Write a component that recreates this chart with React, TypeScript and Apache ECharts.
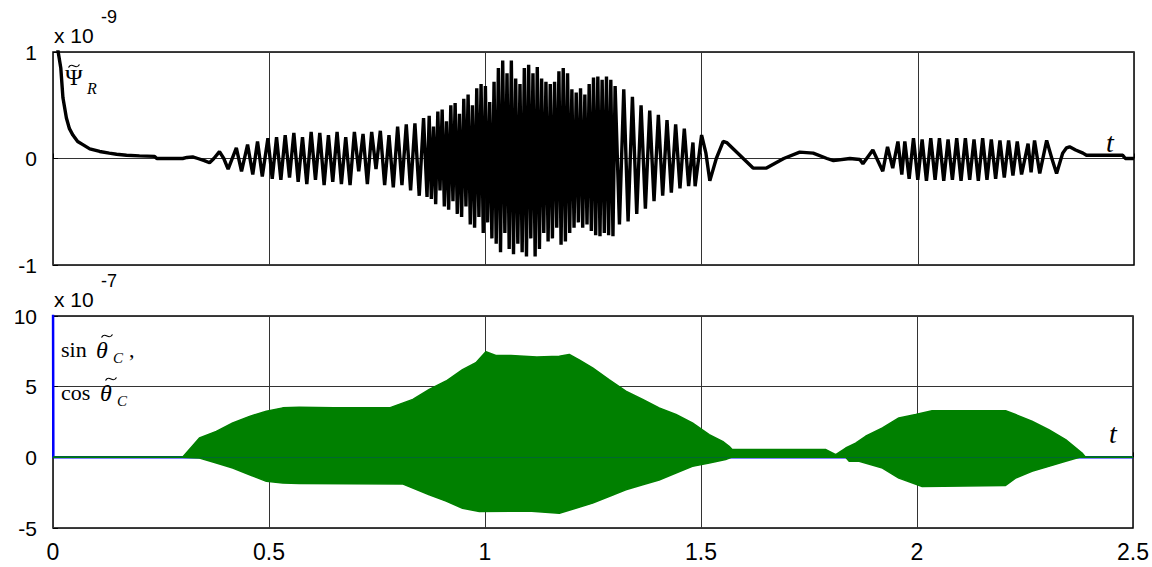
import React, { useEffect, useRef } from "react";
import * as echarts from "echarts";

// ---------- data ----------
const xTicks = [0, 0.5, 1, 1.5, 2, 2.5];
const topYTicks = [-1, 0, 1]; // x 10^-9
const bottomYTicks = [-5, 0, 5, 10]; // x 10^-7

// Psi_R (x 1e-9): initial decay
const psiDecay: [number, number][] = [
  [0, 1.3], [0.008, 1.1], [0.012, 1.0], [0.018, 0.85], [0.023, 0.57], [0.031, 0.38],
  [0.038, 0.28], [0.046, 0.22], [0.057, 0.16], [0.069, 0.13], [0.085, 0.09], [0.108, 0.066],
  [0.13, 0.05], [0.147, 0.04], [0.17, 0.03], [0.2, 0.025], [0.235, 0.02], [0.24, 0.0],
  [0.3, 0.0], [0.31, 0.01], [0.323, 0.015], [0.335, 0.0], [0.35, -0.02], [0.362, -0.04],
  [0.372, 0.0], [0.385, 0.065], [0.395, 0.0], [0.405, -0.1], [0.424, 0.1], [0.436, -0.12],
  [0.45, 0.13], [0.462, -0.15], [0.473, 0.16], [0.484, -0.17], [0.497, 0.19], [0.507, -0.19],
];
// Psi_R: steady oscillation
const psiRise: [number, number][] = [
  [0.517, 0.2], [0.527, -0.2], [0.537, 0.22], [0.547, -0.18], [0.557, 0.24], [0.567, -0.22],
  [0.577, 0.2], [0.587, -0.24], [0.597, 0.25], [0.607, -0.2], [0.617, 0.24], [0.627, -0.25],
  [0.637, 0.22], [0.647, -0.22], [0.657, 0.25], [0.667, -0.24], [0.677, 0.2], [0.687, -0.25],
  [0.697, 0.25], [0.707, -0.12], [0.717, 0.23], [0.727, -0.24], [0.737, 0.25], [0.747, -0.1],
  [0.757, 0.26], [0.767, -0.25], [0.777, 0.22], [0.787, -0.27], [0.797, 0.3], [0.807, -0.25],
  [0.817, 0.32], [0.827, -0.3], [0.837, 0.33], [0.847, -0.35], [0.857, 0.38], [0.865, -0.36],
];
// Psi_R: dense burst
const psiBurst: [number, number][] = [
  [0.87, 0.4], [0.875, -0.38], [0.88, 0.3], [0.885, -0.43], [0.89, 0.44], [0.895, -0.3],
  [0.9, 0.46], [0.905, -0.45], [0.91, 0.35], [0.915, -0.48], [0.92, 0.5], [0.925, -0.4],
  [0.93, 0.52], [0.935, -0.52], [0.94, 0.42], [0.945, -0.55], [0.95, 0.56], [0.955, -0.45],
  [0.96, 0.6], [0.965, -0.62], [0.97, 0.5], [0.975, -0.65], [0.98, 0.66], [0.985, -0.55],
  [0.99, 0.7], [0.995, -0.7], [1.0, 0.68], [1.005, -0.6], [1.01, 0.53], [1.015, -0.75],
  [1.02, 0.72], [1.025, -0.8], [1.03, 0.85], [1.035, -0.88], [1.04, 0.92], [1.045, -0.7],
  [1.05, 0.8], [1.055, -0.85], [1.06, 0.92], [1.065, -0.9], [1.07, 0.75], [1.075, -0.8],
  [1.08, 0.7], [1.085, -0.88], [1.09, 0.85], [1.095, -0.92], [1.1, 0.88], [1.105, -0.75],
  [1.11, 0.8], [1.115, -0.92], [1.12, 0.86], [1.125, -0.85], [1.13, 0.75], [1.135, -0.7],
  [1.14, 0.72], [1.145, -0.78], [1.15, 0.7], [1.155, -0.75], [1.16, 0.72], [1.165, -0.65],
  [1.17, 0.82], [1.175, -0.81], [1.18, 0.85], [1.185, -0.78], [1.19, 0.8], [1.195, -0.7],
  [1.2, 0.65], [1.205, -0.65], [1.21, 0.62], [1.215, -0.6], [1.22, 0.66], [1.225, -0.65],
  [1.23, 0.6], [1.235, -0.62], [1.24, 0.7], [1.245, -0.68], [1.25, 0.76], [1.255, -0.72],
  [1.26, 0.77], [1.265, -0.73], [1.27, 0.74], [1.275, -0.7], [1.28, 0.77], [1.285, -0.72],
  [1.29, 0.74], [1.295, -0.73], [1.3, 0.68],
];
// Psi_R: fading oscillation
const psiFade: [number, number][] = [
  [1.31, -0.62], [1.32, 0.65], [1.33, -0.59], [1.34, 0.58], [1.35, -0.52], [1.36, 0.5],
  [1.37, -0.47], [1.38, 0.45], [1.39, -0.4], [1.4, 0.41], [1.41, -0.35], [1.42, 0.36],
  [1.43, -0.32], [1.44, 0.32], [1.45, -0.28], [1.46, 0.28], [1.47, -0.26], [1.48, 0.15],
  [1.485, -0.26], [1.5, 0.22], [1.51, 0.05], [1.519, -0.21], [1.534, 0.0], [1.55, 0.16],
  [1.558, 0.15], [1.619, -0.09], [1.65, -0.09], [1.69, 0.0], [1.727, 0.06], [1.758, 0.05],
  [1.79, 0.0], [1.805, -0.02], [1.843, 0.0], [1.866, -0.01],
];
// Psi_R: second burst and tail
const psiTail: [number, number][] = [
  [1.873, -0.05], [1.896, 0.08], [1.919, -0.12], [1.93, 0.11], [1.942, -0.09], [1.954, 0.16],
  [1.963, -0.15], [1.97, 0.16], [1.98, -0.19], [1.99, 0.19], [2.0, -0.2], [2.01, 0.18],
  [2.02, -0.21], [2.03, 0.19], [2.04, -0.2], [2.05, 0.19], [2.06, -0.21], [2.07, 0.18],
  [2.08, -0.2], [2.09, 0.19], [2.1, -0.21], [2.11, 0.19], [2.12, -0.2], [2.13, 0.18],
  [2.14, -0.21], [2.15, 0.19], [2.16, -0.2], [2.17, 0.18], [2.18, -0.19], [2.19, 0.17],
  [2.2, -0.18], [2.21, 0.17], [2.22, -0.16], [2.23, 0.16], [2.24, -0.15], [2.255, 0.14],
  [2.262, -0.13], [2.27, 0.17], [2.282, -0.14], [2.298, 0.17], [2.31, 0.0], [2.321, -0.14],
  [2.335, 0.05], [2.344, 0.1], [2.351, 0.11], [2.365, 0.08], [2.382, 0.05], [2.39, 0.03],
  [2.474, 0.03], [2.48, 0.0], [2.5, 0.0],
];

// cos/sin theta_C (x 1e-7): green oscillation envelope
const cosUpper: [number, number][] = [
  [0, 0], [0.3, 0], [0.339, 1.37], [0.378, 1.84], [0.416, 2.43], [0.455, 2.9], [0.494, 3.26],
  [0.532, 3.5], [0.57, 3.55], [0.65, 3.5], [0.72, 3.5], [0.779, 3.5], [0.833, 4.1],
  [0.871, 4.8], [0.91, 5.4], [0.948, 6.2], [0.979, 6.7], [1.002, 7.47], [1.025, 7.2],
  [1.06, 7.2], [1.12, 7.1], [1.172, 7.16], [1.195, 7.28], [1.218, 6.9], [1.249, 6.33],
  [1.287, 5.5], [1.326, 4.68], [1.365, 4.1], [1.403, 3.5], [1.442, 3.03], [1.48, 2.43],
  [1.519, 1.6], [1.55, 1.13], [1.565, 0.78], [1.572, 0.55], [1.789, 0.55], [1.812, 0.19],
  [1.835, 0.66], [1.858, 1.0], [1.881, 1.49], [1.92, 2.08], [1.958, 2.79], [1.997, 3.03],
  [2.035, 3.3], [2.205, 3.3], [2.228, 3.03], [2.266, 2.55], [2.305, 1.96], [2.344, 1.26],
  [2.382, 0.3], [2.39, 0], [2.5, 0],
];
const cosLower: [number, number][] = [
  [0, 0], [0.3, 0], [0.339, -0.05], [0.378, -0.4], [0.416, -0.76], [0.455, -1.23],
  [0.494, -1.7], [0.532, -1.82], [0.57, -1.85], [0.809, -1.88], [0.871, -2.65], [0.91, -3.1],
  [0.948, -3.6], [0.987, -3.83], [1.1, -3.8], [1.172, -3.95], [1.21, -3.6], [1.249, -3.24],
  [1.287, -2.77], [1.326, -2.3], [1.365, -1.94], [1.403, -1.6], [1.442, -1.11], [1.48, -0.64],
  [1.519, -0.4], [1.557, -0.16], [1.57, 0], [1.835, 0], [1.843, -0.28], [1.866, -0.28],
  [1.92, -0.76], [1.958, -1.47], [2.012, -2.06], [2.205, -1.99], [2.228, -1.47],
  [2.266, -0.99], [2.305, -0.64], [2.344, -0.28], [2.376, 0], [2.5, 0],
];
const sinLine: [number, number][] = [
  [0, 12], [0.0008, 0], [2.5, 0],
];

// ---------- chart ----------
const FONT = "Liberation Sans, Arial, sans-serif";
const SERIF = "Liberation Serif, Times New Roman, serif";

// a small tilde accent drawn as a curve centred on (cx, cy)
const tilde = (cx: number, cy: number) => ({
  type: "bezierCurve",
  z: 10,
  shape: {
    x1: cx - 5.5, y1: cy + 1.5,
    x2: cx + 5.5, y2: cy - 1.5,
    cpx1: cx - 1.5, cpy1: cy - 5,
    cpx2: cx + 1.5, cpy2: cy + 5,
  },
  style: { stroke: "#000", lineWidth: 1.3, fill: null },
});

export default function App() {
  const ref = useRef<HTMLDivElement>(null);
  useEffect(() => {
    const chart = echarts.init(ref.current!, null, { renderer: "svg" });
    const psi = [...psiDecay, ...psiRise, ...psiBurst, ...psiFade, ...psiTail];
    const gridLine = { show: true, lineStyle: { color: "#333", width: 1 } };
    const xBase = {
      type: "value",
      min: xTicks[0],
      max: xTicks[xTicks.length - 1],
      interval: 0.5,
      axisLine: { show: false },
      axisTick: { show: true, inside: true, length: 5, lineStyle: { color: "#000" } },
      splitLine: gridLine,
    };
    chart.setOption({
      animation: false,
      backgroundColor: "#fff",
      grid: [
        { left: 53, right: 18, top: 52, height: 213, show: true, borderColor: "#000", borderWidth: 1.5, backgroundColor: "transparent" },
        { left: 53, right: 18, top: 316, height: 212, show: true, borderColor: "#000", borderWidth: 1.5, backgroundColor: "transparent" },
      ],
      xAxis: [
        { ...xBase, gridIndex: 0, axisLabel: { show: false } },
        {
          ...xBase,
          gridIndex: 1,
          axisLabel: {
            show: true, color: "#000", fontSize: 23, fontFamily: FONT, margin: 12,
            formatter: (v: number) => (xTicks.includes(v) ? String(v) : ""),
          },
        },
      ],
      yAxis: [
        {
          type: "value", gridIndex: 0, min: topYTicks[0], max: topYTicks[topYTicks.length - 1], interval: 1,
          axisLine: { show: false },
          axisTick: { show: true, inside: true, length: 5, lineStyle: { color: "#000" } },
          splitLine: gridLine,
          axisLabel: { color: "#000", fontSize: 21, fontFamily: FONT, margin: 16 },
        },
        {
          type: "value", gridIndex: 1, min: bottomYTicks[0], max: bottomYTicks[bottomYTicks.length - 1], interval: 5,
          axisLine: { show: false },
          axisTick: { show: true, inside: true, length: 5, lineStyle: { color: "#000" } },
          splitLine: gridLine,
          axisLabel: { color: "#000", fontSize: 21, fontFamily: FONT, margin: 16 },
        },
      ],
      series: [
        {
          type: "line", xAxisIndex: 0, yAxisIndex: 0, data: psi, showSymbol: false,
          lineStyle: { color: "#000", width: 3.4 }, z: 3,
        },
        {
          type: "line", xAxisIndex: 1, yAxisIndex: 1, data: sinLine, showSymbol: false,
          lineStyle: { color: "#0000ff", width: 2.5 }, z: 3,
        },
        {
          type: "line", xAxisIndex: 1, yAxisIndex: 1, data: cosUpper, showSymbol: false,
          lineStyle: { color: "#008000", width: 1.5 }, areaStyle: { color: "#008000", opacity: 1 }, z: 4,
        },
        {
          type: "line", xAxisIndex: 1, yAxisIndex: 1, data: cosLower, showSymbol: false,
          lineStyle: { color: "#008000", width: 1.5 }, areaStyle: { color: "#008000", opacity: 1 }, z: 4,
        },
      ],
      graphic: [
        { type: "text", left: 54, top: 25, style: { text: "x 10", font: `21px ${FONT}`, fill: "#000" } },
        { type: "text", left: 101, top: 8, style: { text: "-9", font: `18px ${FONT}`, fill: "#000" } },
        { type: "text", left: 54, top: 289, style: { text: "x 10", font: `21px ${FONT}`, fill: "#000" } },
        { type: "text", left: 101, top: 272, style: { text: "-7", font: `18px ${FONT}`, fill: "#000" } },
        // Psi_R label
        { type: "text", left: 65, top: 65, style: { text: "Ψ", font: `24px ${SERIF}`, fill: "#000" }, z: 10 },
        tilde(74, 66),
        { type: "text", left: 87, top: 80, style: { text: "R", font: `italic 16px ${SERIF}`, fill: "#000" }, z: 10 },
        // t labels
        { type: "text", left: 1106, top: 128, style: { text: "t", font: `italic 28px ${SERIF}`, fill: "#000" }, z: 10 },
        { type: "text", left: 1109, top: 419, style: { text: "t", font: `italic 28px ${SERIF}`, fill: "#000" }, z: 10 },
        // sin/cos theta_C labels
        { type: "text", left: 61, top: 338, style: { text: "sin", font: `22px ${SERIF}`, fill: "#000" }, z: 10 },
        { type: "text", left: 96, top: 338, style: { text: "θ", font: `italic 24px ${SERIF}`, fill: "#000" }, z: 10 },
        tilde(107, 336),
        { type: "text", left: 113, top: 350, style: { text: "C", font: `italic 15px ${SERIF}`, fill: "#000" }, z: 10 },
        { type: "text", left: 129, top: 338, style: { text: ",", font: `22px ${SERIF}`, fill: "#000" }, z: 10 },
        { type: "text", left: 61, top: 381, style: { text: "cos", font: `22px ${SERIF}`, fill: "#000" }, z: 10 },
        { type: "text", left: 100, top: 381, style: { text: "θ", font: `italic 24px ${SERIF}`, fill: "#000" }, z: 10 },
        tilde(111, 379),
        { type: "text", left: 117, top: 393, style: { text: "C", font: `italic 15px ${SERIF}`, fill: "#000" }, z: 10 },
      ],
    });
    return () => chart.dispose();
  }, []);
  return (
    <div
      ref={ref}
      style={{ position: "absolute", left: 0, top: 0, width: 1152, height: 567, background: "#fff" }}
    />
  );
}
